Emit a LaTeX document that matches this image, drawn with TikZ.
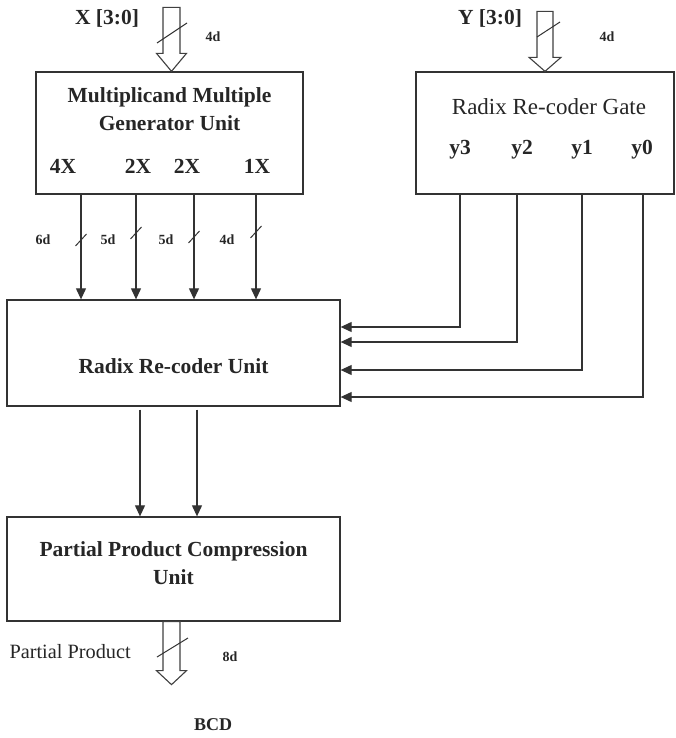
\documentclass[tikz,border=0pt]{standalone}
\usepackage{fontspec}
\setmainfont{Liberation Serif}
\usetikzlibrary{arrows.meta,positioning,calc}
\tikzset{
  unitbox/.style={rectangle, draw=black!80, line width=1.3pt, inner sep=0pt},
  ttl/.style={font=\fontsize{21.5}{28}\selectfont\bfseries, text=black!85, align=center},
  ttlreg/.style={font=\fontsize{23}{28}\selectfont, text=black!85, align=center},
  sml/.style={font=\fontsize{14}{16}\selectfont\bfseries, text=black!85},
  sig/.style={-{Triangle[length=11pt,width=10pt]}, line width=1.1pt, draw=black!80},
  tick/.style={line width=1pt, draw=black!80},
  bus/.style={draw=black!75, line width=1.1pt, fill=white},
}

\begin{document}
\begin{tikzpicture}[x=1pt,y=-1pt]
  \useasboundingbox (0,0) rectangle (676,738);
  % blocks
  \node[unitbox, minimum width=267pt, minimum height=122pt] (mmgu) at (169.5,133) {};
  \node[unitbox, minimum width=258pt, minimum height=122pt] (rrg) at (545,133) {};
  \node[unitbox, minimum width=333pt, minimum height=106pt] (rru) at (173.5,353) {};
  \node[unitbox, minimum width=333pt, minimum height=104pt] (ppcu) at (173.5,569) {};
  \node[ttl] (mmgutxt) at (169.5,109) {Multiplicand Multiple\\Generator Unit};
  \node[ttlreg] (rrgtxt) at (549,107) {Radix Re-coder Gate};
  \node[ttl] (rrutxt) at (173.5,366) {Radix Re-coder Unit};
  \node[ttl] (ppcutxt) at (173.5,563) {Partial Product Compression\\Unit};
  \foreach \x/\t in {63/4X, 138/2X, 187/2X, 257/1X}
    \node[ttl] at (\x,166) {\t};
  \foreach \x/\t in {460/y3, 522/y2, 582/y1, 642/y0}
    \node[ttl] at (\x,150) {\t};

  % multiples into the re-coder unit
  \foreach \n/\x/\s/\lx/\t in {a/81/240/43/6d, b/136/233/108/5d, c/194/237/166/5d, d/256/232/227/4d} {
    \coordinate (m\n) at (\x,0);
    \draw[sig] (m\n |- mmgu.south) -- (m\n |- rru.north);
    \draw[tick] ({\x-5.5},{\s+6}) -- ({\x+5.5},{\s-6});
    \node[sml] at (\lx,240) {\t};
  }

  % recoded digits
  \foreach \n/\x/\y in {3/460/327, 2/517/342, 1/582/370, 0/643/397} {
    \coordinate (g\n) at (\x,\y);
    \draw[sig] (g\n |- rrg.south) -- (g\n) -- (g\n -| rru.east);
  }

  % unit to compression
  \foreach \n/\x in {p/140, q/197} {
    \coordinate (u\n) at (\x,0);
    \draw[sig, shorten <=3pt] (u\n |- rru.south) -- (u\n |- ppcu.north);
  }

  % bus inputs / output
  \draw[bus] ([xshift=2pt]mmgu.north) -- ++(-15,-18) -- ++(6.5,0) -- ++(0,-46)
    -- ++(17,0) -- ++(0,46) -- ++(6.5,0) -- cycle;
  \draw[tick] (157,43) -- (187,23);
  \node[ttl] (xin) at (107,18) {X [3:0]};
  \node[sml] at (213,37) {4d};

  \draw[bus] (rrg.north) -- ++(-16,-14) -- ++(8,0) -- ++(0,-46)
    -- ++(16,0) -- ++(0,46) -- ++(8,0) -- cycle;
  \draw[tick] (537,37) -- (560,22);
  \node[ttl] (yin) at (490,18) {Y [3:0]};
  \node[sml] at (607,37) {4d};

  \draw[bus] ([xshift=-2pt]ppcu.south) ++(-8.5,0) -- ++(0,49) -- ++(-6.5,0)
    -- ++(15,14) -- ++(15,-14) -- ++(-6.5,0) -- ++(0,-49) -- cycle;
  \draw[tick] (157,657) -- (188,638);
  \node[ttlreg, font=\fontsize{20.3}{24}\selectfont, anchor=west] (pp) at (6,652) {Partial Product};
  \node[sml] at (230,657) {8d};
  \node[ttl, font=\fontsize{18}{22}\selectfont\bfseries] (bcd) at (213,725) {BCD};
\end{tikzpicture}
\end{document}
